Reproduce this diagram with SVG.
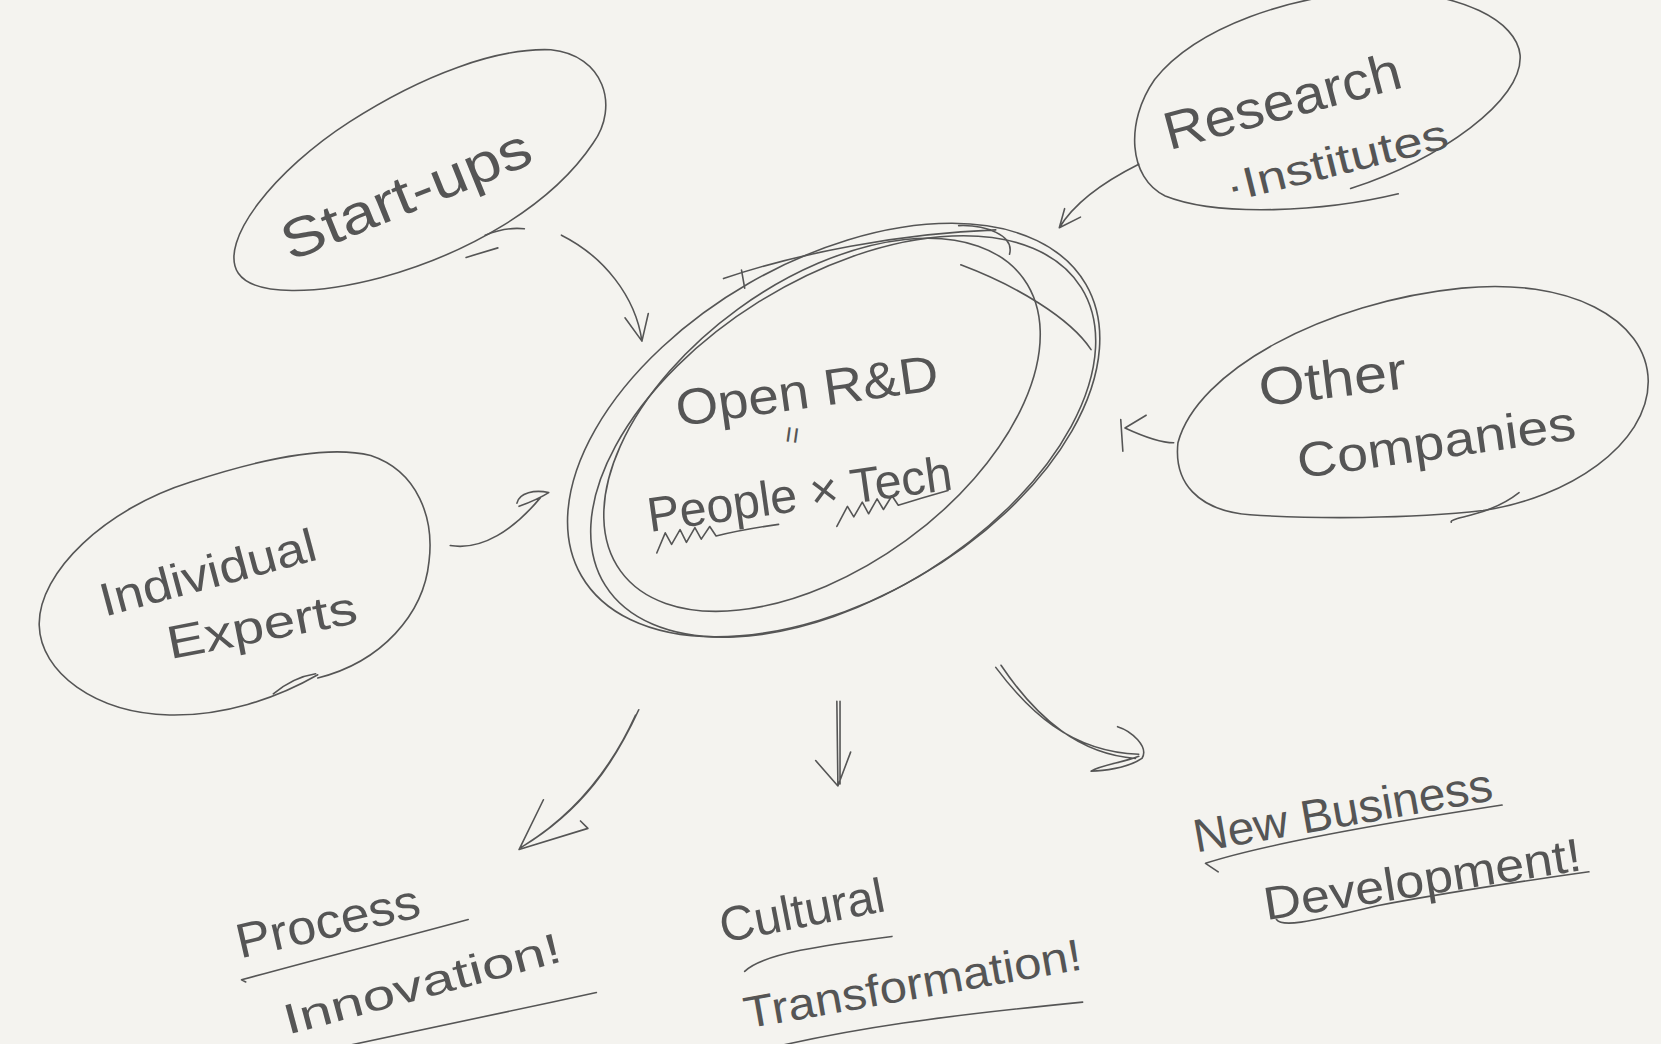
<svg xmlns="http://www.w3.org/2000/svg" width="1661" height="1044" viewBox="0 0 1661 1044">
<style>
.s{fill:none;stroke:#555;stroke-width:1.5;stroke-linecap:round;stroke-linejoin:round}
.t{font-family:"Liberation Sans","DejaVu Sans",sans-serif;fill:#555;text-anchor:middle}
</style>
<rect width="1661" height="1044" fill="#f4f3ef"/>
<g transform="scale(1.0593)">
<g id="startups">
<path class="s" d="M560,135 C520,195 440,240 360,262 C300,278 240,280 225,258 C205,228 260,160 330,115 C400,70 470,45 520,47 C570,52 585,100 560,135 Z"/>
<path class="s" d="M440,243 L470,234 M458,222 Q478,214 495,216"/>
<text class="t" x="390" y="200" font-size="52" textLength="250" lengthAdjust="spacingAndGlyphs" transform="rotate(-22 390 200)">Start-ups</text>
</g>
<g id="research">
<path class="s" d="M1320,183 C1250,200 1150,205 1100,185 C1065,168 1062,115 1090,75 C1130,25 1220,-5 1300,-8 C1380,-8 1432,20 1435,52 C1438,95 1360,150 1275,178"/>
<text class="t" x="1215" y="112" font-size="50" textLength="230" lengthAdjust="spacingAndGlyphs" transform="rotate(-15 1215 112)">Research</text>
<text class="t" x="1265" y="165" font-size="40" textLength="215" lengthAdjust="spacingAndGlyphs" transform="rotate(-14 1265 165)">·Institutes</text>
</g>
<g id="others">
<path class="s" d="M1112,418 C1130,350 1250,285 1380,272 C1480,262 1555,300 1556,360 C1556,420 1480,470 1400,482 C1330,490 1240,490 1180,486 C1130,482 1108,455 1112,418 Z"/>
<path class="s" d="M1370,493 C1368,488 1405,488 1434,465"/>
<text class="t" x="1260" y="375" font-size="50" textLength="140" lengthAdjust="spacingAndGlyphs" transform="rotate(-7 1260 375)">Other</text>
<text class="t" x="1358" y="433" font-size="46" textLength="265" lengthAdjust="spacingAndGlyphs" transform="rotate(-8 1358 433)">Companies</text>
</g>
<g id="experts">
<path class="s" d="M300,637 C260,660 210,676 160,675 C90,673 38,635 37,590 C36,540 100,480 180,455 C250,432 310,420 350,430 C395,445 410,490 405,530 C400,580 360,625 300,640"/>
<path class="s" d="M258,655 C270,645 285,638 298,636"/>
<text class="t" x="200" y="555" font-size="44" textLength="210" lengthAdjust="spacingAndGlyphs" transform="rotate(-15 200 555)">Individual</text>
<text class="t" x="250" y="605" font-size="44" textLength="182" lengthAdjust="spacingAndGlyphs" transform="rotate(-11 250 605)">Experts</text>
</g>
<g id="center">
<ellipse class="s" cx="787" cy="406" rx="275" ry="160" transform="rotate(-30 787 406)"/>
<ellipse class="s" cx="776" cy="401" rx="235" ry="135" transform="rotate(-36 776 401)"/>
<ellipse class="s" cx="796" cy="412" rx="265" ry="150" transform="rotate(-32 796 412)"/>
<path class="s" d="M683,263 C750,240 850,220 940,217 M905,213 C930,212 958,222 953,240 M700,255 L703,272 M907,250 C960,270 1010,300 1030,330"/>
<text class="t" x="764" y="385" font-size="48" textLength="250" lengthAdjust="spacingAndGlyphs" transform="rotate(-8 764 385)">Open R&amp;D</text>
<text class="t" x="757" y="412" font-size="28" transform="rotate(-82 757 412)">=</text>
<text class="t" x="757" y="482" font-size="46" textLength="290" lengthAdjust="spacingAndGlyphs" transform="rotate(-8 757 482)">People × Tech</text>
<path class="s" d="M620,522 L628,503 L634,514 L642,500 L648,512 L656,498 L662,509 L670,497 L676,506 Q700,500 735,495"/>
<path class="s" d="M790,497 L800,478 L806,488 L814,474 L820,485 L828,471 L834,481 L842,468 L848,477 Q870,470 895,463"/>
</g>
<g id="process">
<text class="t" x="313" y="885" font-size="46" textLength="177" lengthAdjust="spacingAndGlyphs" transform="rotate(-13 313 885)">Process</text>
<path class="s" d="M232,927 L228,925 C300,905 380,885 442,868"/>
<text class="t" x="402" y="942" font-size="40" textLength="270" lengthAdjust="spacingAndGlyphs" transform="rotate(-15 402 942)">Innovation!</text>
<path class="s" d="M305,992 C400,972 480,955 563,937"/>
</g>
<g id="cultural">
<text class="t" x="760" y="875" font-size="46" textLength="158" lengthAdjust="spacingAndGlyphs" transform="rotate(-11 760 875)">Cultural</text>
<path class="s" d="M703,917 C720,900 780,892 842,884"/>
<text class="t" x="864" y="943" font-size="42" textLength="323" lengthAdjust="spacingAndGlyphs" transform="rotate(-10 864 943)">Transformation!</text>
<path class="s" d="M700,996 C800,970 900,958 1022,946"/>
</g>
<g id="newbiz">
<text class="t" x="1270" y="780" font-size="44" textLength="286" lengthAdjust="spacingAndGlyphs" transform="rotate(-10 1270 780)">New Business</text>
<path class="s" d="M1150,823 L1138,815 C1200,795 1320,775 1418,760"/>
<text class="t" x="1345" y="845" font-size="44" textLength="303" lengthAdjust="spacingAndGlyphs" transform="rotate(-9 1345 845)">Development!</text>
<path class="s" d="M1205,868 C1210,875 1230,872 1300,855 C1380,840 1450,830 1500,823"/>
</g>
<g id="connectors">
<path class="s" d="M530,222 C570,242 600,280 606,322 M590,300 L606,322 L612,296"/>
<path class="s" d="M1075,155 C1045,170 1015,190 1000,215 M1005,197 L1000,215 L1020,205"/>
<path class="s" d="M1108,418 C1095,418 1075,410 1062,404 L1082,392 M1058,396 L1060,426"/>
<path class="s" d="M425,515 C455,520 485,500 510,470 M488,475 C490,465 505,462 518,465 C510,470 498,475 490,478"/>
<path class="s" d="M603,670 C580,720 550,765 492,800 M600,675 C575,730 540,770 495,798 M513,755 L490,802 L555,782 L548,775"/>
<path class="s" d="M790,662 L791,742 M793,662 L793,740 M770,718 L791,742 L803,710"/>
<path class="s" d="M940,630 C970,670 1010,710 1075,712 M945,628 C980,680 1020,712 1072,716 M1055,686 C1068,690 1085,705 1078,716 C1065,725 1040,728 1030,728 C1040,722 1060,720 1075,714"/>
</g>
</g>
</svg>
